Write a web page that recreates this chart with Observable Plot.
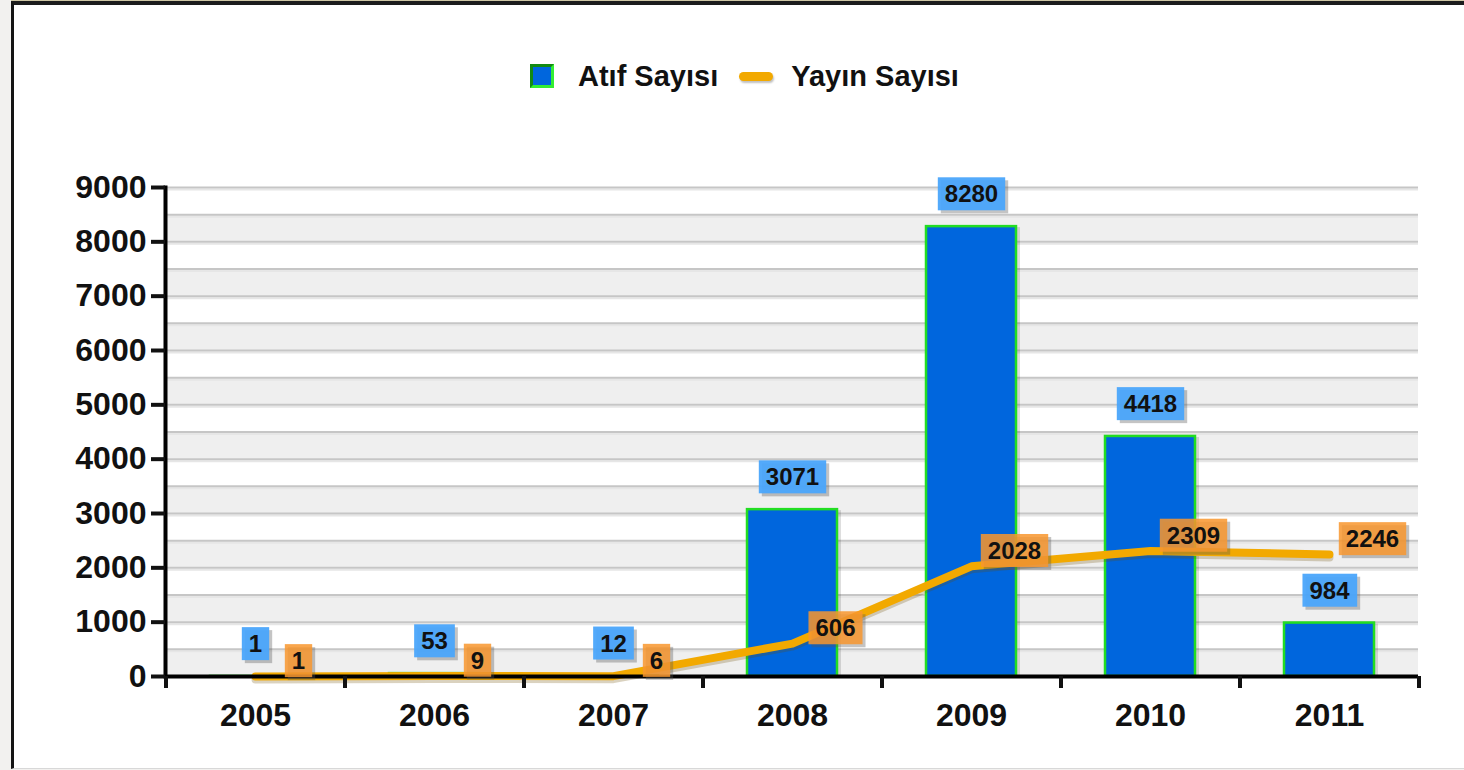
<!DOCTYPE html>
<html><head><meta charset="utf-8">
<script src="https://cdn.jsdelivr.net/npm/d3@7"></script>
<script src="https://cdn.jsdelivr.net/npm/@observablehq/plot@0.6"></script>
<style>
html,body{margin:0;padding:0;width:1464px;height:770px;overflow:hidden;background:#f2f1ef;font-family:"Liberation Sans",Arial,sans-serif;}
#beige{position:absolute;left:11px;top:0;width:1453px;height:1px;background:#cfc7a5;}
#frame{position:absolute;left:11px;top:1px;width:1453px;height:768px;background:#fff;border-left:3px solid #141414;border-top:4px solid #1c1c1c;border-bottom:1px solid #d8d8d8;box-sizing:border-box;}
#wrap{position:absolute;left:0;top:0;width:1464px;height:770px;}
#legend{position:relative;height:130px;width:1464px;}
#legend .items{position:absolute;left:530px;top:63px;display:flex;align-items:center;height:26px;font-weight:bold;font-size:29px;color:#111;}
#legend .sq{width:24px;height:24px;box-sizing:border-box;background:#0066dd;border:3px solid;border-color:#128a12 #33ee33 #33ee33 #128a12;}
#legend .ln{width:34px;height:9px;border-radius:5px;background:#f2a900;box-shadow:1px 2px 2px rgba(0,0,0,0.25);}
</style></head>
<body>
<div id="beige"></div><div id="frame"></div>
<div id="wrap">
  <div id="legend"><div class="items">
    <div class="sq"></div><span style="margin-left:24px">Atıf Sayısı</span>
    <div class="ln" style="margin-left:21px"></div><span style="margin-left:18px">Yayın Sayısı</span>
  </div></div>
  <div id="chart"></div>
</div>
<script>
const years = ["2005","2006","2007","2008","2009","2010","2011"];
const atif  = [1, 53, 12, 3071, 8280, 4418, 984];
const yayin = [1, 9, 6, 606, 2028, 2309, 2246];
const yTicks = [0,1000,2000,3000,4000,5000,6000,7000,8000,9000];
const gridValues = d3.range(500, 9001, 500);
const bandStarts = d3.range(0, 9000, 1000);

const data = years.map((y, i) => ({year: y, atif: atif[i], yayin: yayin[i]}));

const W = 1464, H = 640, ML = 165, MR = 46, MT = 57, MB = 94;
const step = (W - ML - MR) / years.length;

const chart = Plot.plot({
  width: W, height: H,
  marginLeft: ML, marginRight: MR, marginTop: MT, marginBottom: MB,
  style: {background: "transparent", fontFamily: "'Liberation Sans', Arial, sans-serif", fontWeight: "bold", fontSize: "32px", color: "#111"},
  x: {domain: years, paddingInner: 0.5, paddingOuter: 0.25, label: null},
  y: {domain: [0, 9000], label: null},
  marks: [
    Plot.rect(bandStarts, {y1: d => d, y2: d => d + 500, fill: "#efefef"}),
    Plot.ruleY(gridValues, {stroke: "#e6e6e6", strokeWidth: 2, dy: 2}),
    Plot.ruleY(gridValues, {stroke: "#c6c6c6", strokeWidth: 2}),
    Plot.barY(data, {x: "year", y: "atif", fill: "#000", fillOpacity: 0.13, dx: 4, dy: 1}),
    Plot.barY(data, {x: "year", y: "atif", fill: "#0066dd", stroke: "#22dd22", strokeWidth: 2.5}),
    Plot.text(data, {x: "year", y: "atif", text: d => String(d.atif), dy: -32, fontSize: 24, fontWeight: "bold", fill: "#111", ariaDescription: "atif-lbl"}),
    Plot.line(data, {x: "year", y: "yayin", curve: "linear", stroke: "#6a4a00", strokeOpacity: 0.25, strokeWidth: 8, dy: 3, strokeLinecap: "round", strokeLinejoin: "round"}),
    Plot.line(data, {x: "year", y: "yayin", curve: "linear", stroke: "#f2a900", strokeWidth: 8, strokeLinecap: "round", strokeLinejoin: "round"}),
    Plot.ruleY([0], {stroke: "#000", strokeWidth: 4}),
    Plot.frame({anchor: "left", stroke: "#000", strokeWidth: 4}),
    Plot.axisY({ticks: yTicks, tickSize: 14, tickPadding: 5, tickFormat: d => String(d), strokeWidth: 4, fontSize: 32, fontWeight: "bold", fill: "#111", label: null}),
    Plot.axisX({tickSize: 0, tickPadding: 27, fontSize: 32, fontWeight: "bold", fill: "#111", label: null}),
    Plot.axisX({tickSize: 12, dx: -step / 2, tickFormat: () => "", strokeWidth: 4, label: null}),
    Plot.axisX({ticks: [years[years.length - 1]], tickSize: 12, dx: step / 2, tickFormat: () => "", strokeWidth: 4, label: null}),
    Plot.text(data, {x: "year", y: "yayin", text: d => String(d.yayin), dx: 43, dy: -15, fontSize: 24, fontWeight: "bold", fill: "#111", ariaDescription: "yayin-lbl"})
  ]
});
document.getElementById("chart").appendChild(chart);

function boxes(desc, fill, op) {
  chart.querySelectorAll(`g[aria-description="${desc}"] text`).forEach(t => {
    const b = t.getBBox();
    const px = 7, py = 3;
    const tr = t.getAttribute("transform");
    const mk = (dx, dy, f, o) => {
      const r = document.createElementNS("http://www.w3.org/2000/svg", "rect");
      r.setAttribute("x", b.x - px + dx);
      r.setAttribute("y", b.y - py + dy);
      r.setAttribute("width", b.width + 2 * px);
      r.setAttribute("height", b.height + 2 * py);
      r.setAttribute("fill", f);
      r.setAttribute("fill-opacity", o);
      if (tr) r.setAttribute("transform", tr);
      t.parentNode.insertBefore(r, t);
    };
    mk(3, 3, "#555", 0.35);
    mk(0, 0, fill, op);
  });
}
boxes("atif-lbl", "#4aa5fb", 0.95);
boxes("yayin-lbl", "#f8962e", 0.85);
</script>
</body></html>
